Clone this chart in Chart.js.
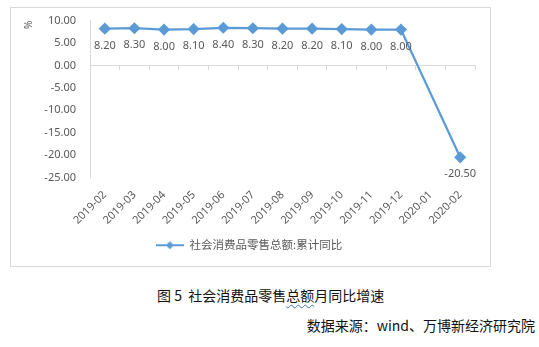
<!DOCTYPE html>
<html>
<head>
<meta charset="utf-8">
<script src="https://cdn.jsdelivr.net/npm/chart.js@4"></script>
<style>
  body { margin: 0; background: #fff; width: 539px; height: 347px; position: relative; overflow: hidden; }
  #box { position: absolute; left: 10px; top: 7px; width: 479px; height: 258px; border: 1px solid #d9d9d9; }
  #caption { position: absolute; left: 157px; top: 285px; font: 14px "Noto Sans CJK SC", sans-serif; color: #111; white-space: nowrap; }
  #caption .wavy { text-decoration: underline wavy #4472c4; text-decoration-thickness: 1px; text-underline-offset: 3px; }
  #source { position: absolute; right: 4px; top: 315px; font: 14px "Noto Sans CJK SC", sans-serif; color: #111; white-space: nowrap; }
</style>
</head>
<body>
<div id="box"><canvas id="out" width="479" height="258"></canvas></div>
<div id="caption">图 5&nbsp; 社会消费品零售<span class="wavy">总额</span>月同比增速</div>
<div id="source">数据来源：wind、万博新经济研究院</div>
<script>
// 社会消费品零售总额:累计同比 (%)
const months = ["2019-02","2019-03","2019-04","2019-05","2019-06","2019-07","2019-08",
                "2019-09","2019-10","2019-11","2019-12","2020-01","2020-02"];
const growth = [8.2, 8.3, 8.0, 8.1, 8.4, 8.3, 8.2, 8.2, 8.1, 8.0, 8.0, null, -20.5];
const yTicks = [10, 5, 0, -5, -10, -15, -20, -25];

const blue = "#5b9bd5";
const grey = "#595959";
const fontFam = '"Noto Sans", "Noto Sans CJK SC", sans-serif';

// legend marker: line with diamond, like excel
const mark = document.createElement("canvas");
mark.width = 28; mark.height = 10;
const mc = mark.getContext("2d");
mc.strokeStyle = blue; mc.lineWidth = 2;
mc.beginPath(); mc.moveTo(0, 5); mc.lineTo(28, 5); mc.stroke();
mc.fillStyle = blue;
mc.beginPath(); mc.moveTo(14, 1); mc.lineTo(18, 5); mc.lineTo(14, 9); mc.lineTo(10, 5); mc.closePath(); mc.fill();

// value labels under each point
const valueLabels = {
  id: "valueLabels",
  afterDatasetsDraw(chart) {
    const ctx = chart.ctx;
    const meta = chart.getDatasetMeta(0);
    ctx.save();
    ctx.fillStyle = grey;
    ctx.font = "11px " + fontFam;
    ctx.textAlign = "center";
    ctx.textBaseline = "middle";
    meta.data.forEach((pt, i) => {
      const v = growth[i];
      if (v === null) return;
      ctx.fillText(v.toFixed(2), pt.x, pt.y + 17);
    });
    ctx.restore();
  }
};

const canvasCtx = document.getElementById("out").getContext("2d");
new Chart(canvasCtx, {
  type: "line",
  data: {
    labels: months,
    datasets: [{
      label: "社会消费品零售总额:累计同比",
      data: growth,
      borderColor: blue,
      backgroundColor: blue,
      borderWidth: 2.25,
      pointStyle: "rectRot",
      pointRadius: 4.5,
      pointHoverRadius: 4.5,
      spanGaps: true,
      tension: 0,
      xAxisID: "x"
    }]
  },
  options: {
    responsive: false,
    animation: false,
    layout: { padding: { top: 8, right: 15, left: 12, bottom: 5 } },
    plugins: {
      tooltip: { enabled: false },
      legend: {
        position: "bottom",
        labels: {
          usePointStyle: true,
          pointStyle: mark,
          pointStyleWidth: 28,
          color: grey,
          font: { family: fontFam, size: 11.5 },
          padding: 8
        }
      }
    },
    scales: {
      x: {
        type: "category",
        position: { y: 0 },
        offset: true,
        border: { display: true, color: "#d9d9d9", width: 1 },
        grid: { display: true, offset: true, drawOnChartArea: false, drawTicks: true, tickLength: 4, color: "#d9d9d9" },
        ticks: { display: false }
      },
      x2: {
        type: "category",
        position: "bottom",
        offset: true,
        border: { display: false },
        grid: { display: false },
        ticks: {
          color: grey,
          font: { family: fontFam, size: 11 },
          minRotation: 45,
          maxRotation: 45,
          autoSkip: false,
          padding: 3
        },
        afterFit(scale) { scale.height = 54; }
      },
      y: {
        min: -25,
        max: 10,
        border: { display: true, color: "#d9d9d9" },
        grid: { display: false },
        afterBuildTicks(scale) { scale.ticks = yTicks.map(v => ({ value: v })); },
        ticks: {
          color: grey,
          font: { family: fontFam, size: 11 },
          padding: 6,
          callback: v => v.toFixed(2)
        },
        title: { display: true, text: "%", align: "end", color: grey, font: { family: fontFam, size: 10 }, padding: 0 },
        afterFit(scale) { scale.width = 67; }
      }
    }
  },
  plugins: [valueLabels]
});
</script>
</body>
</html>
